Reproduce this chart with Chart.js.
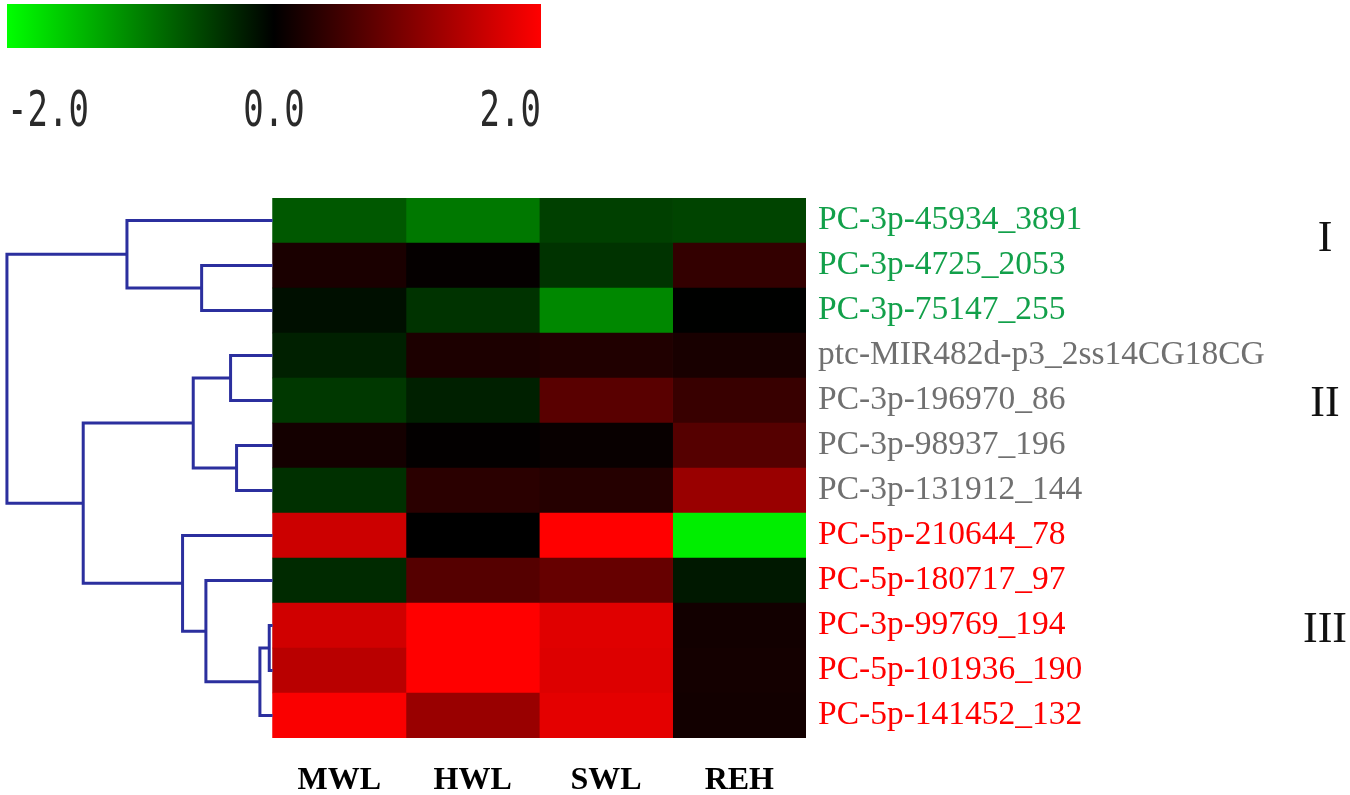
<!DOCTYPE html>
<html>
<head>
<meta charset="utf-8">
<script src="https://cdn.jsdelivr.net/npm/chart.js@4.4.1/dist/chart.umd.min.js"></script>
<style>
  html, body { margin: 0; padding: 0; background: #fff; }
  #wrap { width: 1350px; height: 795px; position: relative; }
</style>
</head>
<body>
<div id="wrap"><canvas id="heat"></canvas></div>
<script>
// columns (treatments) and rows (miRNAs)
const columns = ['MWL', 'HWL', 'SWL', 'REH'];
const rowLabels = [
  'PC-3p-45934_3891', 'PC-3p-4725_2053', 'PC-3p-75147_255',
  'ptc-MIR482d-p3_2ss14CG18CG', 'PC-3p-196970_86', 'PC-3p-98937_196', 'PC-3p-131912_144',
  'PC-5p-210644_78', 'PC-5p-180717_97', 'PC-3p-99769_194', 'PC-5p-101936_190', 'PC-5p-141452_132'
];
const rowGroup = [0, 0, 0, 1, 1, 1, 1, 2, 2, 2, 2, 2];
const groupNames = ['I', 'II', 'III'];
const groupRows = [0.43, 4.08, 9.12];
const groupColors = ['#12a04a', '#707070', '#ff0000'];

// log2 fold change per column
const MWL = [-0.69, 0.20, -0.12, -0.25, -0.44, 0.16, -0.38, 1.60, -0.33, 1.63, 1.45, 1.96];
const HWL = [-0.94, 0.04, -0.40, 0.22, -0.25, 0.02, 0.33, 0.00, 0.67, 2.00, 2.00, 1.20];
const SWL = [-0.50, -0.40, -1.07, 0.25, 0.70, 0.06, 0.29, 2.00, 0.80, 1.76, 1.73, 1.79];
const REH = [-0.53, 0.40, -0.01, 0.19, 0.44, 0.67, 1.20, -1.87, -0.19, 0.14, 0.16, 0.14];
const cellValues = [MWL, HWL, SWL, REH];

// colour key
const colorTicks = [-2.0, 0.0, 2.0];

// hierarchical clustering of rows: node 12+i joins linkLeft[i] and linkRight[i] at linkHeight[i]
const linkLeft   = [9, 12, 8, 7, 5, 3, 17, 18, 1, 0, 21];
const linkRight  = [10, 11, 13, 14, 6, 4, 16, 15, 2, 20, 19];
const linkHeight = [0.025, 0.095, 0.50, 0.675, 0.27, 0.315, 0.595, 1.42, 0.532, 1.092, 1.992];

function colorFor(v) {
  const t = Math.max(-1, Math.min(1, v / 2));
  const c = Math.round(255 * Math.abs(t));
  return t >= 0 ? `rgb(${c},0,0)` : `rgb(0,${c},0)`;
}

// heatmap cells as floating horizontal bars
const barSets = columns.map((name, c) => ({
  type: 'bar',
  label: name,
  data: rowLabels.map((_, r) => ({ y: r, x: [c, c + 1] })),
  backgroundColor: cellValues[c].map(colorFor),
  borderWidth: 0,
  grouped: false,
  barPercentage: 1,
  categoryPercentage: 1,
  order: 2
}));

// dendrogram elbows
const nodeY = rowLabels.map((_, i) => i);
const nodeH = rowLabels.map(() => 0);
const treeSets = linkHeight.map((h, i) => {
  const a = linkLeft[i], b = linkRight[i];
  nodeY.push((nodeY[a] + nodeY[b]) / 2);
  nodeH.push(h);
  return {
    type: 'line',
    data: [
      { x: -nodeH[a], y: nodeY[a] },
      { x: -h, y: nodeY[a] },
      { x: -h, y: nodeY[b] },
      { x: -nodeH[b], y: nodeY[b] }
    ],
    borderColor: '#2b2f9e',
    borderWidth: 3,
    pointRadius: 0,
    fill: false,
    tension: 0,
    order: 1
  };
});

const extras = {
  id: 'extras',
  afterDraw(chart) {
    const ctx = chart.ctx;
    const y = chart.scales.y;
    // colour key bar
    const left = 7, right = 541, top = 4, bottom = 48;
    const grad = ctx.createLinearGradient(left, 0, right, 0);
    const lo = colorTicks[0], hi = colorTicks[colorTicks.length - 1];
    colorTicks.forEach(v => grad.addColorStop((v - lo) / (hi - lo), colorFor(v)));
    ctx.save();
    ctx.fillStyle = grad;
    ctx.fillRect(left, top, right - left, bottom - top);
    ctx.fillStyle = '#2a2a2a';
    ctx.font = '50px "DejaVu Sans Mono", monospace';
    ctx.textBaseline = 'middle';
    colorTicks.forEach((v, i) => {
      const px = left + (v - lo) / (hi - lo) * (right - left);
      ctx.save();
      ctx.translate(px, 113);
      ctx.scale(0.68, 1);
      ctx.textAlign = i === 0 ? 'left' : (i === colorTicks.length - 1 ? 'right' : 'center');
      ctx.fillText(v.toFixed(1), 0, 0);
      ctx.restore();
    });
    // cluster names
    ctx.fillStyle = '#111';
    ctx.font = '44px "Liberation Serif", "Times New Roman", serif';
    ctx.textAlign = 'center';
    groupNames.forEach((g, i) => {
      ctx.fillText(g, 1325, y.getPixelForValue(groupRows[i]));
    });
    ctx.restore();
  }
};

new Chart(document.getElementById('heat'), {
  type: 'bar',
  data: { datasets: [...treeSets, ...barSets] },
  options: {
    indexAxis: 'y',
    responsive: true,
    maintainAspectRatio: false,
    animation: false,
    devicePixelRatio: 1,
    layout: { padding: { top: 198, left: 0, right: 0, bottom: 0 } },
    plugins: { legend: { display: false }, tooltip: { enabled: false } },
    scales: {
      x: {
        type: 'linear',
        position: 'bottom',
        offset: false,
        min: -2.044,
        max: columns.length,
        grid: { display: false, drawTicks: false },
        border: { display: false },
        afterBuildTicks: s => { s.ticks = columns.map((_, i) => ({ value: i + 0.5 })); },
        afterFit: s => { s.height = 57; s.paddingLeft = 0; s.paddingRight = 0; },
        ticks: {
          autoSkip: false,
          maxRotation: 0,
          padding: 24,
          color: '#000',
          font: { family: '"Liberation Serif", "Times New Roman", serif', size: 32, weight: 'bold' },
          callback: v => columns[Math.round(v - 0.5)]
        }
      },
      y: {
        type: 'linear',
        position: 'right',
        reverse: true,
        offset: false,
        min: -0.5,
        max: rowLabels.length - 0.5,
        grid: { display: false, drawTicks: false, offset: false },
        border: { display: false },
        afterBuildTicks: s => { s.ticks = rowLabels.map((_, i) => ({ value: i })); },
        afterFit: s => { s.width = 544; s.paddingTop = 0; s.paddingBottom = 0; },
        ticks: {
          autoSkip: false,
          padding: 12,
          font: { family: '"Liberation Serif", "Times New Roman", serif', size: 33.5 },
          color: c => groupColors[rowGroup[c.index]],
          callback: v => rowLabels[v]
        }
      }
    }
  },
  plugins: [extras]
});
</script>
</body>
</html>
